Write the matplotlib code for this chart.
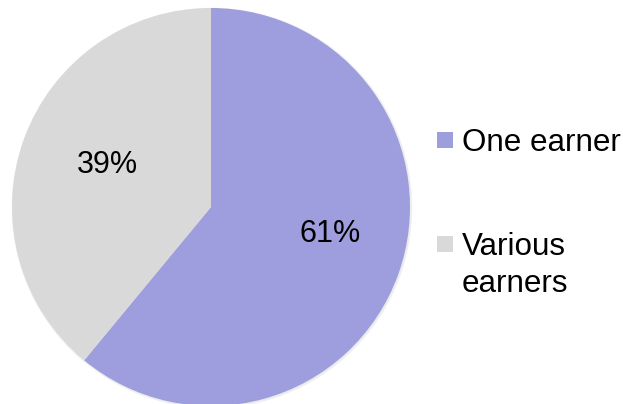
import matplotlib
matplotlib.use("Agg")
import matplotlib.pyplot as plt
from matplotlib.patches import Circle, Rectangle

labels = ["One earner", "Various\nearners"]
shares = [61, 39]
colors = ["#9e9ede", "#d9d9d9"]

plt.rcParams["font.family"] = ["Liberation Sans", "DejaVu Sans"]

W, H = 623, 404
fig = plt.figure(figsize=(W / 100, H / 100), dpi=100)
ax = fig.add_axes([0, 0, 1, 1])

# axes units are pixels with the origin at the bottom-left
cx, cy, r = 211, H - 207, 199
FS = 22.6

# soft drop shadow under the pie
for i, a in enumerate([0.05, 0.05, 0.04]):
    ax.add_patch(Circle((cx + 1, cy - 1), r + 1.5 - i * 0.5, color="#808080",
                        alpha=a, lw=0, zorder=0))

wedges, texts, autotexts = ax.pie(
    shares, colors=colors, startangle=90, counterclock=False,
    center=(cx, cy), radius=r, autopct="%d%%", pctdistance=0.6,
    textprops=dict(fontsize=22, color="black"),
    wedgeprops=dict(linewidth=0),
)
for w in wedges:
    w.set_zorder(1)

# percentage label placement
label_pos = [(330, H - 234), (107, H - 165)]
for t, p in zip(autotexts, label_pos):
    t.set_position(p)
    t.set_zorder(2)

ax.set_xlim(0, W)
ax.set_ylim(0, H)
ax.set_aspect("equal")
ax.axis("off")

# legend: square swatch aligned with the first line of each entry
legend_top = [132, 236]
for lab, col, top in zip(labels, colors, legend_top):
    ax.add_patch(Rectangle((437, H - top - 16), 16, 16, facecolor=col,
                           edgecolor="none", zorder=3))
    ax.text(462, H - top + 4, lab, fontsize=FS, ha="left", va="top",
            linespacing=1.3, color="black")

fig.savefig("out.png", dpi=100)
